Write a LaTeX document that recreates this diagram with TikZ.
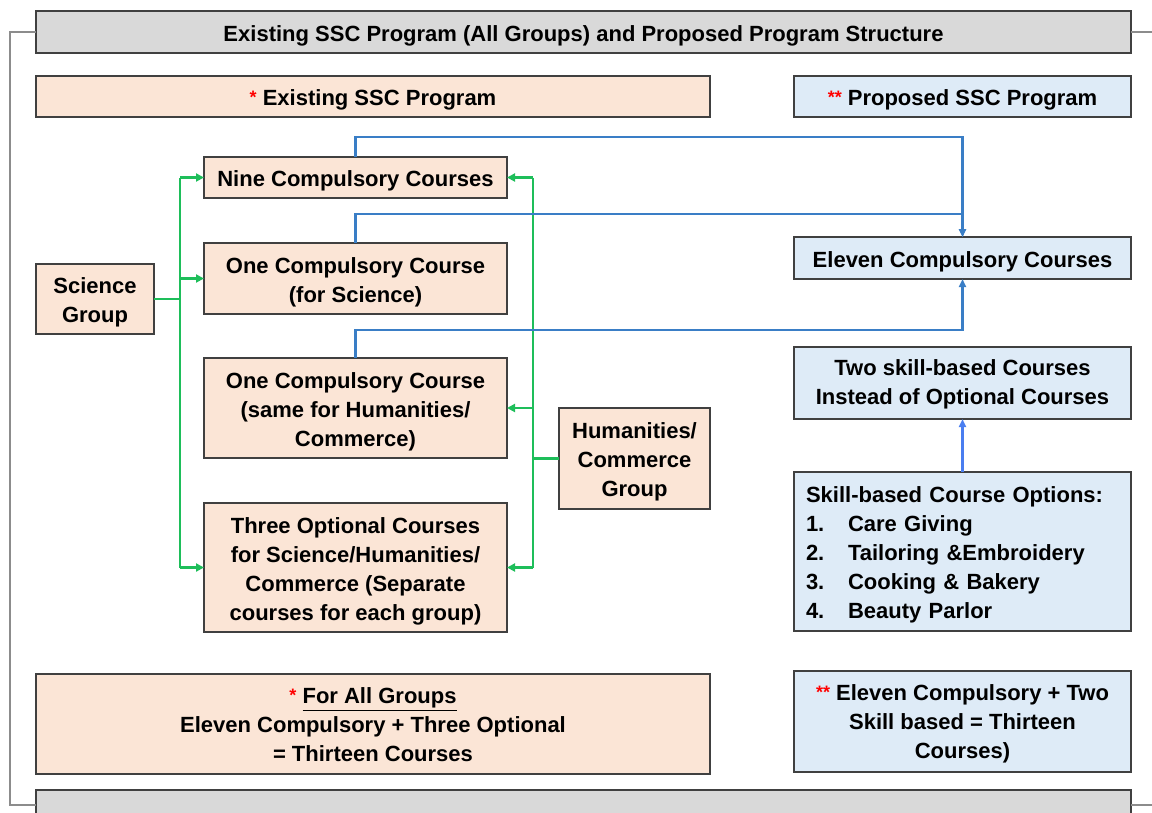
\documentclass[tikz,border=0pt]{standalone}
\usepackage{fontspec}
\setmainfont{Liberation Sans}
\usetikzlibrary{arrows.meta,calc}
\definecolor{peach}{HTML}{FBE5D6}
\definecolor{lblue}{HTML}{DEEBF7}
\definecolor{lgray}{HTML}{D9D9D9}
\definecolor{edge}{HTML}{404040}
\definecolor{gline}{HTML}{1EBE5A}
\definecolor{bline}{HTML}{3A7EC6}
\definecolor{bline2}{HTML}{4A7EF0}
\definecolor{star}{HTML}{FF0000}
\tikzset{
  box/.style={draw=edge, line width=1.8pt, inner sep=0pt, outer sep=0pt, align=center,
    font=\fontsize{22}{29}\selectfont\bfseries,
    execute at begin node={\rule{0pt}{23pt}}},
  pbox/.style={box, fill=peach},
  bbox/.style={box, fill=lblue},
  gbox/.style={box, fill=lgray},
  gl/.style={draw=gline, line width=2.2pt},
  gla/.style={gl, -{Triangle[length=8pt,width=8pt]}},
  bl/.style={draw=bline, line width=2.2pt},
  bla/.style={bl, -{Triangle[length=8pt,width=7pt]}},
  frame/.style={draw=gray!90, line width=1.2pt},
}
\newcommand{\rs}[1]{\textcolor{star}{\raisebox{2pt}{\fontsize{18}{18}\selectfont #1}}}
\newcommand{\sd}[1]{\rule{0pt}{#1}}
\begin{document}
\begin{tikzpicture}[x=1pt,y=-1pt]
\useasboundingbox (0,0) rectangle (1152,812);
% frame bracket lines
\coordinate (fl) at (10,0);
\coordinate (fr) at (1152,0);
% bottom grey box (cut off)
\node[gbox, minimum width=1095pt, minimum height=50pt] (bottom) at (583.5,815) {};
\node[gbox, minimum width=1095pt, minimum height=42pt] (title) at (583.5,32)
  {Existing SSC Program (All Groups) and Proposed Program Structure};
\draw[frame] (title.west) -- (title.west -| fl) -- (fl |- 0,805) -- (36,805);
\draw[frame] (title.east) -- (title.east -| fr);
\draw[frame] (1131,805) -- (1152,805);

\node[pbox, minimum width=674pt, minimum height=41pt] (exist) at (373,96.5)
  {\rs{*} Existing SSC Program};
\node[bbox, minimum width=337pt, minimum height=41pt] (prop) at (962.5,96.5)
  {\rs{**} Proposed SSC Program};

\node[pbox, minimum width=303pt, minimum height=41pt] (nine) at (355.5,177.5)
  {Nine Compulsory Courses};
\node[pbox, minimum width=303pt, minimum height=71pt] (onesci) at (355.5,278.5)
  {\sd{23pt}One Compulsory Course\\(for Science)};
\node[pbox, minimum width=303pt, minimum height=100pt] (onehum) at (355.5,408)
  {\sd{23pt}One Compulsory Course\\(same for Humanities/\\Commerce)};
\node[pbox, minimum width=303pt, minimum height=129pt] (three) at (355.5,567.5)
  {\sd{23pt}Three Optional Courses\\for Science/Humanities/\\Commerce (Separate\\courses for each group)};
\node[pbox, minimum width=118pt, minimum height=70pt] (sci) at (95,299)
  {\sd{23pt}Science\\Group};
\node[pbox, minimum width=151pt, minimum height=101pt] (hum) at (634.5,458.5)
  {\sd{23pt}Humanities/\\Commerce\\Group};

\node[bbox, minimum width=337pt, minimum height=42pt] (eleven) at (962.5,258)
  {Eleven Compulsory Courses};
\node[bbox, minimum width=337pt, minimum height=72pt] (two) at (962.5,383)
  {\sd{19pt}Two skill-based Courses\\Instead of Optional Courses};
\node[bbox, minimum width=337pt, minimum height=159pt, align=left, text width=313pt] (skill) at (962.5,551.5)
  {Skill-based Course Options:\\
   \makebox[42pt][l]{1.}Care Giving\\
   \makebox[42pt][l]{2.}Tailoring \&Embroidery\\
   \makebox[42pt][l]{3.}Cooking \& Bakery\\
   \makebox[42pt][l]{4.}Beauty Parlor};

\node[pbox, minimum width=674pt, minimum height=100pt] (forall) at (373,724)
  {\sd{18pt}\rs{*} \underline{For All Groups}\\Eleven Compulsory + Three Optional\\= Thirteen Courses};
\node[bbox, minimum width=337pt, minimum height=101pt] (propsum) at (962.5,721.5)
  {\sd{20pt}\rs{**} Eleven Compulsory + Two\\Skill based = Thirteen\\Courses)};

% green connectors: Science group
\coordinate (sT) at (180,0);
\draw[gl] (nine.west -| sT) -- (three.west -| sT);
\draw[gl] (sci.east) -- (sci.east -| sT);
\draw[gla] (nine.west -| sT) -- (nine.west);
\draw[gla] (onesci.west -| sT) -- (onesci.west);
\draw[gla] (three.west -| sT) -- (three.west);
% green connectors: Humanities group
\coordinate (hT) at (533,0);
\draw[gl] (nine.east -| hT) -- (three.east -| hT);
\draw[gl] (hum.west) -- (hum.west -| hT);
\draw[gla] (nine.east -| hT) -- (nine.east);
\draw[gla] (onehum.east -| hT) -- (onehum.east);
\draw[gla] (three.east -| hT) -- (three.east);

% blue connectors
\draw[bla] (nine.north) -- ++(0,-20) -| (eleven.north);
\draw[bla] (onesci.north) -- ++(0,-29) -| (eleven.north);
\draw[bla] (onehum.north) -- ++(0,-28) -| (eleven.south);
\draw[bla, draw=bline2] (skill.north) -- (two.south);
\end{tikzpicture}
\end{document}
